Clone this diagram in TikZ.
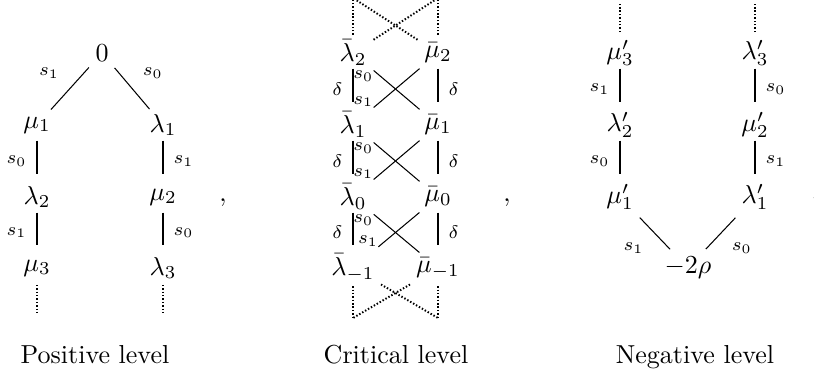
\documentclass[tikz,border=0pt]{standalone}
\usepackage{amsmath}
\usetikzlibrary{math}

\begin{document}
\begin{tikzpicture}[x=0.3846pt, y=-0.3846pt,
  every node/.style={inner sep=1pt},
  lbl/.style={inner sep=3.8pt, font=\scriptsize},
  xlbl/.style={inner sep=0pt, font=\scriptsize},
  vline/.style={line width=0.5pt, shorten <=6pt, shorten >=9pt},
  dline/.style={line width=0.4pt},
  dots/.style={line width=0.75pt, dash pattern=on 0.55pt off 0.75pt}]
\tikzmath{
\ra=53;
\rb=125;
\rc=197;
\rd=268;
}
\useasboundingbox (0,0) rectangle (814,374);

% positive level
\node (zero) at (102,\ra) {$0$};
\node (mu1) at (37,\rb) {$\mu_1$};
\node (lam1) at (163,\rb) {$\lambda_1$};
\node (lam2) at (37,\rc) {$\lambda_2$};
\node (mu2) at (163,\rc) {$\mu_2$};
\node (mu3) at (37,\rd) {$\mu_3$};
\node (lam3) at (163,\rd) {$\lambda_3$};
\coordinate (endA) at (37,313);
\coordinate (endB) at (163,313);

\draw[dline, shorten <=7.5pt, shorten >=8pt] (zero.center) -- node[lbl, pos=.5, above left] (pa) {$s_1$} (mu1.center);
\draw[dline, shorten <=7.5pt, shorten >=8pt] (zero.center) -- node[lbl, pos=.5, above right] (pb) {$s_0$} (lam1.center);
\draw[vline] (mu1.center) -- node[lbl, left] (pc) {$s_0$} (lam2.center);
\draw[vline] (lam2.center) -- node[lbl, left] (pd) {$s_1$} (mu3.center);
\draw[vline] (lam1.center) -- node[lbl, right] (pe) {$s_1$} (mu2.center);
\draw[vline] (mu2.center) -- node[lbl, right] (pf) {$s_0$} (lam3.center);
\draw[dots, shorten <=6.5pt] (mu3.center) -- (endA);
\draw[dots, shorten <=6.5pt] (lam3.center) -- (endB);

\node[anchor=base] (cm1) at (223,202) {$,$};

% critical level
\node (lb2) at (353,\ra) {$\bar\lambda_2$};
\node (mb2) at (438,\ra) {$\bar\mu_2$};
\node (lb1) at (353,\rb) {$\bar\lambda_1$};
\node (mb1) at (438,\rb) {$\bar\mu_1$};
\node (lb0) at (353,\rc) {$\bar\lambda_0$};
\node (mb0) at (438,\rc) {$\bar\mu_0$};
\node (lbm) at (353,\rd) {$\bar\lambda_{-1}$};
\node (mbm) at (438,\rd) {$\bar\mu_{-1}$};
\coordinate (tl) at (353,-2);
\coordinate (tr) at (438,-2);
\coordinate (bl) at (353,318);
\coordinate (br) at (438,318);

\draw[dots, shorten <=7pt] (lb2.center) -- (tl);
\draw[dots, shorten <=7pt] (mb2.center) -- (tr);
\draw[dots, shorten <=9.4pt] (lb2.center) -- (tr);
\draw[dots, shorten <=9.4pt] (mb2.center) -- (tl);

\draw[vline] (lb2.center) -- node[lbl, left] (da) {$\delta$} (lb1.center);
\draw[vline] (lb1.center) -- node[lbl, left] (db) {$\delta$} (lb0.center);
\draw[vline] (lb0.center) -- node[lbl, left] (dc) {$\delta$} (lbm.center);
\draw[vline] (mb2.center) -- node[lbl, right] (dd) {$\delta$} (mb1.center);
\draw[vline] (mb1.center) -- node[lbl, right] (de) {$\delta$} (mb0.center);
\draw[vline] (mb0.center) -- node[lbl, right] (df) {$\delta$} (mbm.center);

\draw[dline, shorten <=10.4pt, shorten >=9.3pt] (lb2.center) -- node[xlbl, pos=.244, anchor=north east] (xa) {$s_0$} (mb1.center);
\draw[dline, shorten <=10.4pt, shorten >=9.3pt] (lb1.center) -- node[xlbl, pos=.244, anchor=south east] (xb) {$s_1$} (mb2.center);
\draw[dline, shorten <=10.4pt, shorten >=9.3pt] (lb1.center) -- node[xlbl, pos=.244, anchor=north east] (xc) {$s_0$} (mb0.center);
\draw[dline, shorten <=10.4pt, shorten >=9.3pt] (lb0.center) -- node[xlbl, pos=.244, anchor=south east] (xd) {$s_1$} (mb1.center);
\draw[dline, shorten <=10.4pt, shorten >=9.3pt] (lb0.center) -- node[xlbl, pos=.244, anchor=north east] (xe) {$s_0$} (mbm.center);
\draw[dline, shorten <=12.7pt, shorten >=9.3pt] (lbm.center) -- node[xlbl, pos=.3, anchor=south east] (xf) {$s_1$} (mb0.center);

\draw[dots, shorten <=7pt] (lbm.center) -- (bl);
\draw[dots, shorten <=7pt] (mbm.center) -- (br);
\draw[dots, shorten <=12.5pt] (lbm.center) -- (br);
\draw[dots, shorten <=12.5pt] (mbm.center) -- (bl);

\node[anchor=base] (cm2) at (507,202) {$,$};

% negative level
\node (mu3p) at (620,\ra) {$\mu'_3$};
\node (lam3p) at (755,\ra) {$\lambda'_3$};
\node (lam2p) at (620,\rb) {$\lambda'_2$};
\node (mu2p) at (755,\rb) {$\mu'_2$};
\node (mu1p) at (620,\rc) {$\mu'_1$};
\node (lam1p) at (755,\rc) {$\lambda'_1$};
\node (rho) at (688,\rd) {$-2\rho$};
\coordinate (topA) at (620,4);
\coordinate (topB) at (755,4);

\draw[dots, shorten <=8pt] (mu3p.center) -- (topA);
\draw[dots, shorten <=8pt] (lam3p.center) -- (topB);
\draw[vline] (mu3p.center) -- node[lbl, left] (na) {$s_1$} (lam2p.center);
\draw[vline] (lam2p.center) -- node[lbl, left] (nb) {$s_0$} (mu1p.center);
\draw[vline] (lam3p.center) -- node[lbl, right] (nc) {$s_0$} (mu2p.center);
\draw[vline] (mu2p.center) -- node[lbl, right] (nd) {$s_1$} (lam1p.center);
\draw[dline, shorten <=11pt, shorten >=10pt] (mu1p.center) -- node[lbl, pos=.5, below left] (ne) {$s_1$} (rho.center);
\draw[dline, shorten <=11pt, shorten >=10pt] (lam1p.center) -- node[lbl, pos=.5, below right] (nf) {$s_0$} (rho.center);

\node[anchor=base west, inner sep=0pt] (cm3) at (811,200) {$,$};

% captions
\node[anchor=base] (capA) at (95,363) {Positive level};
\node[anchor=base] (capB) at (396,363) {Critical level};
\node[anchor=base] (capC) at (695,363) {Negative level};
\end{tikzpicture}
\end{document}
